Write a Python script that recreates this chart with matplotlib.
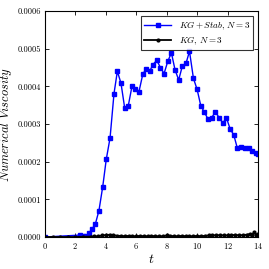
import numpy as np
import matplotlib.pyplot as plt
import matplotlib as mpl

mpl.rcParams['font.family'] = 'serif'
mpl.rcParams['font.serif'] = ['cmr10', 'DejaVu Serif']
mpl.rcParams['mathtext.fontset'] = 'cm'
mpl.rcParams['axes.formatter.use_mathtext'] = True
mpl.rcParams['font.size'] = 6

# KG + Stab, N = 3
t_stab = [0.0, 2.28, 2.52, 2.72, 2.9, 3.07, 3.31, 3.55, 3.8, 4.03, 4.28, 4.54, 4.76,
          5.0, 5.24, 5.48, 5.72, 5.94, 6.18, 6.43, 6.64, 6.88, 7.1, 7.35, 7.59, 7.83,
          8.07, 8.31, 8.55, 8.79, 9.03, 9.27, 9.5, 9.76, 10.0, 10.24, 10.48, 10.72,
          10.96, 11.2, 11.45, 11.69, 11.93, 12.17, 12.41, 12.65, 12.89, 13.13, 13.38,
          13.62, 13.86, 14.0]
v_stab = [0.0, 0.05, 0.02, 0.03, 0.1, 0.2, 0.34, 0.7, 1.34, 2.06, 2.63, 3.81, 4.40,
          4.08, 3.43, 3.49, 4.00, 3.93, 3.86, 4.32, 4.46, 4.40, 4.58, 4.69, 4.50, 4.34,
          4.66, 4.89, 4.44, 4.17, 4.54, 4.61, 4.93, 4.21, 3.92, 3.49, 3.31, 3.13,
          3.17, 3.32, 3.17, 3.03, 3.16, 2.87, 2.71, 2.35, 2.40, 2.35, 2.35,
          2.28, 2.22, 2.20]

# KG, N = 3
t_kg = [0.0, 0.5, 1.0, 1.5, 2.0, 2.5, 3.0, 3.25, 3.5, 3.75, 4.0, 4.25, 4.5, 4.75,
        5.0, 5.25, 5.5, 5.75, 6.0, 6.25, 6.5, 6.75, 7.0, 7.25, 7.5, 7.75, 8.0, 8.25,
        8.5, 8.75, 9.0, 9.25, 9.5, 9.75, 10.0, 10.25, 10.5, 10.75, 11.0, 11.25, 11.5,
        11.75, 12.0, 12.25, 12.5, 12.75, 13.0, 13.25, 13.5, 13.6, 13.75, 13.9, 14.0]
v_kg = [0.0, 0.0, 0.0, 0.0, 0.0, 0.005, 0.01, 0.015, 0.02, 0.04, 0.05, 0.06, 0.05, 0.03,
        0.03, 0.02, 0.03, 0.02, 0.02, 0.03, 0.02, 0.02, 0.03, 0.02, 0.02, 0.02, 0.04, 0.03,
        0.02, 0.02, 0.03, 0.02, 0.02, 0.02, 0.03, 0.02, 0.03, 0.04, 0.05, 0.04, 0.05,
        0.04, 0.04, 0.04, 0.06, 0.04, 0.05, 0.06, 0.08, 0.06, 0.12, 0.06, 0.09]

fig = plt.figure(figsize=(2.69, 2.69), dpi=100)
ax = fig.add_axes([0.167, 0.119, 0.792, 0.84])

ax.plot(t_stab, np.array(v_stab) * 1e-4, 'b-s', markersize=2.5, linewidth=1.0,
        label=r'$KG + Stab,\, N = 3$')
ax.plot(t_kg, np.array(v_kg) * 1e-4, 'k-o', markersize=2, linewidth=1.3,
        label=r'$KG,\, N = 3$')

ax.set_xlim(0, 14)
ax.set_ylim(0, 0.0006)
ax.set_xticks([0, 2, 4, 6, 8, 10, 12, 14])
ax.set_yticks([0, 0.0001, 0.0002, 0.0003, 0.0004, 0.0005, 0.0006])
ax.set_yticklabels(['0.0000', '0.0001', '0.0002', '0.0003', '0.0004', '0.0005', '0.0006'])
ax.tick_params(direction='in', top=True, right=True, length=3, width=0.6, pad=3)
for s in ax.spines.values():
    s.set_linewidth(0.8)

ax.set_xlabel(r'$t$', fontsize=10, labelpad=1)
ax.set_ylabel(r'$Numerical\ Viscosity$', fontsize=9, labelpad=2)

leg = ax.legend(loc='upper right', fontsize=6.5, fancybox=False, edgecolor='k',
                handlelength=3, borderpad=0.4, labelspacing=0.3)
leg.get_frame().set_linewidth(0.8)

fig.savefig('out.png', dpi=100)
